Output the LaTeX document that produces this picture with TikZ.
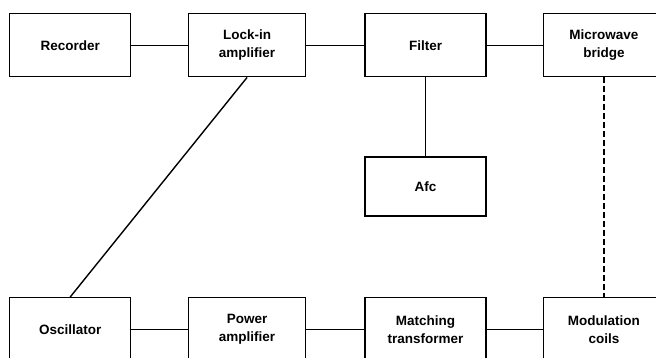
\documentclass[tikz,border=0pt]{standalone}
\usepackage{fontspec}
\setmainfont{Liberation Sans}
\usetikzlibrary{positioning}

\begin{document}
\begin{tikzpicture}[x=1pt,y=1pt,
  blk/.style={draw,line width=1.4pt,minimum width=121pt,minimum height=63pt,inner sep=2pt,align=center,font=\fontsize{13.5}{18}\selectfont\bfseries},
  wire/.style={line width=1.4pt}]
  \useasboundingbox (0,0) rectangle (656,-357);
  \clip (0,0) rectangle (656,-357);
  % top row
  \node[blk,anchor=north west] (rec) at (9,-13) {Recorder};
  \node[blk,minimum width=117pt,right=56.5pt of rec] (lock){Lock-in\\amplifier};
  \node[blk,right=58pt of lock] (filt){Filter};
  \node[blk,right=56pt of filt] (mwb){Microwave\\bridge};
  \node[blk,minimum height=59pt,below=79pt of filt] (afc){Afc};
  % bottom row
  \node[blk,anchor=north west] (osc) at (9,-297) {Oscillator};
  \node[blk,minimum width=117pt,right=56.5pt of osc] (pamp){Power\\amplifier};
  \node[blk,right=58pt of pamp] (match){Matching\\transformer};
  \node[blk,right=56pt of match] (coil){Modulation\\coils};
  \draw[wire](rec)--(lock);\draw[wire](lock)--(filt);\draw[wire](filt)--(mwb);
  \draw[wire](filt)--(afc);\draw[wire](lock.south)--(osc.north);
  \draw[wire](osc)--(pamp);\draw[wire](pamp)--(match);\draw[wire](match)--(coil);
  \draw[wire,dash pattern=on 6pt off 3pt](mwb)--(coil);
\end{tikzpicture}
\end{document}
